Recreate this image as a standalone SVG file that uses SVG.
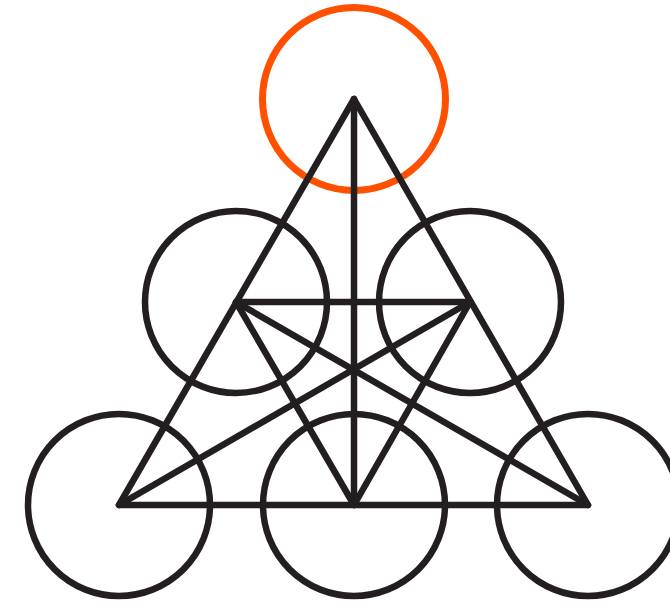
<svg xmlns="http://www.w3.org/2000/svg" width="670" height="602" viewBox="0 0 670 602">
<style>
.c{fill:none;stroke:#231f20;stroke-width:6.5}
.o{fill:none;stroke:#ff5000;stroke-width:7}
.l{fill:none;stroke:#231f20;stroke-width:6.5;stroke-linecap:round;stroke-linejoin:round}
</style>
<rect width="670" height="602" fill="#fff"/>
<g id="circle-top"><circle class="o" cx="354" cy="99" r="91.5"/></g>
<g id="circle-mid-left"><circle class="c" cx="236" cy="302" r="91"/></g>
<g id="circle-mid-right"><circle class="c" cx="470" cy="302" r="91"/></g>
<g id="circle-bottom-left"><circle class="c" cx="119" cy="505" r="91"/></g>
<g id="circle-bottom-center"><circle class="c" cx="354" cy="505" r="91"/></g>
<g id="circle-bottom-right"><circle class="c" cx="588" cy="505" r="91"/></g>
<g id="connectors">
<path class="l" d="M354 99 L119 505 L588 505 Z"/>
<path class="l" d="M354 99 L354 505"/>
<path class="l" d="M236 302 L470 302 L354 505 Z"/>
<path class="l" d="M119 505 L470 302"/>
<path class="l" d="M588 505 L236 302"/>
</g>
</svg>
